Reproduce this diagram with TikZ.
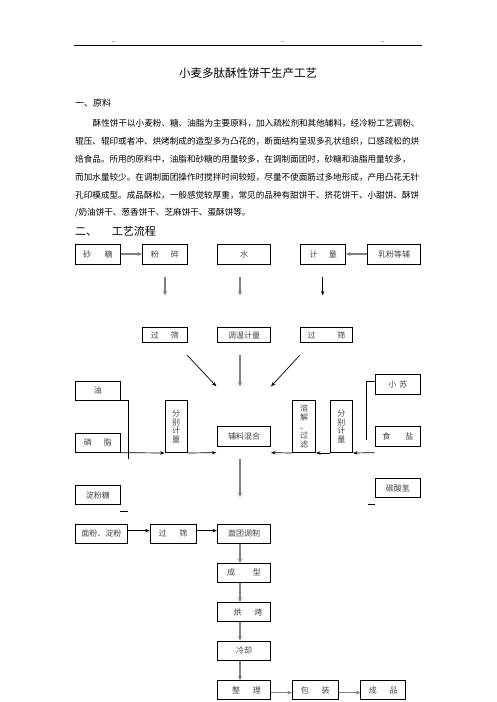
\documentclass[tikz,border=0pt]{standalone}
\usepackage{fontspec}
\setmainfont{Noto Sans CJK SC}
\usetikzlibrary{arrows.meta,calc}
\definecolor{boxtxt}{HTML}{444444}
\definecolor{garr}{HTML}{808080}
\begin{document}
\begin{tikzpicture}[x=1pt,y=-1pt,
  bx/.style={draw=black,line width=0.7pt,inner sep=0pt,text=boxtxt,font=\fontsize{8}{9}\selectfont},
  vbx/.style={bx,align=center,anchor=north,font=\fontsize{8}{8.8}\selectfont},
  txt/.style={inner sep=0pt,anchor=west,text=black},
  ga/.style={draw=garr,line width=1.5pt,-{Stealth[length=4.5pt,width=4pt]}},
  ba/.style={draw=black,line width=0.7pt,-{Stealth[length=4.5pt,width=3.5pt]}},
  bl/.style={draw=black,line width=0.7pt}]
\useasboundingbox (0,0) rectangle (496,702);
\fill[white] (0,0) rectangle (496,702);
% header
\coordinate (hl) at (74,45); \coordinate (hr) at (422,45);
\draw[line width=0.8pt] (hl) -- (hr);
\draw[gray!60,line width=0.6pt] (112,41.5) -- (114.5,41.5) (281,41.5) -- (284,41.5) (381,41.5) -- (383.5,41.5);
% texts
\node[inner sep=0pt] (title) at (248,73.3) {\fontsize{11.5}{12}\selectfont 小麦多肽酥性饼干生产工艺};
\node[txt] (h1) at (75,102.7) {\fontsize{9}{10}\selectfont 一、原料};
\begin{scope}[every node/.style={txt,font=\fontsize{8.6}{9}\selectfont}]
\node (p1) at (92.5,123.3) {酥性饼干以小麦粉、糖、油脂为主要原料，加入疏松剂和其他辅料，经冷粉工艺调粉、};
\node (p2) at (75,141) {辊压、辊印或者冲、烘烤制成的造型多为凸花的，断面结构呈现多孔状组织，口感疏松的烘};
\node (p3) at (75,159) {焙食品。所用的原料中，油脂和砂糖的用量较多，在调制面团时，砂糖和油脂用量较多，};
\node (p4) at (75,177.3) {而加水量较少。在调制面团操作时搅拌时间较短，尽量不使面筋过多地形成，产用凸花无针};
\node (p5) at (75,195) {孔印模成型。成品酥松，一般感觉较厚重，常见的品种有甜饼干、挤花饼干、小甜饼、酥饼};
\node (p6) at (75,212.7) {/奶油饼干、葱香饼干、芝麻饼干、蛋酥饼等。};
\end{scope}
\node[txt] (h2a) at (75,231.7) {\fontsize{11}{12}\selectfont 二、};
\node[txt] (h2b) at (111.7,231.7) {\fontsize{11}{12}\selectfont 工艺流程};
% row 1
\node[bx,minimum width=45.7pt,minimum height=20pt] (sha) at (97.85,254) {砂\hspace{1.7em}糖};
\node[bx,minimum width=45pt,minimum height=20pt] (fensui) at (164.8,254) {粉\hspace{1.5em}碎};
\node[bx,minimum width=53.4pt,minimum height=20pt] (shui) at (244,254) {水};
\node[bx,minimum width=45pt,minimum height=20pt] (jiliang) at (323.2,254) {计\hspace{1.4em}量};
\node[bx,minimum width=53.4pt,minimum height=20pt] (rufen) at (394,254) {乳粉等辅};
% row 2
\node[bx,minimum width=45pt,minimum height=15.4pt] (gs1) at (164.8,335) {过\hspace{1.5em}筛};
\node[bx,minimum width=53.4pt,minimum height=15.4pt] (tiaowen) at (244,335) {调温计量};
\node[bx,minimum width=51.6pt,minimum height=15.4pt] (gs2) at (326.5,335) {过\hspace{2.7em}筛};
% left column
\node[bx,minimum width=45.7pt,minimum height=19pt] (you) at (97.85,390.5) {油};
\node[bx,minimum width=45.7pt,minimum height=19pt] (linzhi) at (97.85,442.8) {磷\hspace{1.5em}脂};
\node[bx,minimum width=45.7pt,minimum height=18.6pt] (dft) at (97.85,495) {淀粉糖};
% vertical boxes
\node[vbx,minimum width=22.3pt,minimum height=52.3pt,inner ysep=6pt] (fb1) at (176.15,400) {分\\别\\计\\量};
\node[bx,minimum width=53.4pt,minimum height=20pt] (fuliao) at (244,436) {辅料混合};
\node[vbx,minimum width=23.4pt,minimum height=52.3pt,inner ysep=4pt] (rj) at (304,400) {溶\\解\\、\\过\\滤};
\node[vbx,minimum width=22.7pt,minimum height=52.3pt,inner ysep=6pt] (fb2) at (341.35,400) {分\\别\\计\\量};
% right column
\node[bx,minimum width=45.7pt,minimum height=20pt] (xiaosu) at (397.85,384) {小\hspace{0.4em}苏};
\node[bx,minimum width=45.7pt,minimum height=19.3pt] (shiyan) at (397.85,436.35) {食\hspace{1.9em}盐};
\node[bx,minimum width=45.7pt,minimum height=19.4pt] (tansuan) at (397.85,488) {碳酸氢};
% bottom flow
\node[bx,minimum width=52.7pt,minimum height=19.3pt] (mianfen) at (101.35,533.65) {面粉、淀粉};
\node[bx,minimum width=46pt,minimum height=19.3pt] (gs3) at (173,533.65) {过\hspace{1.6em}筛};
\node[bx,minimum width=53.4pt,minimum height=19.3pt] (miantuan) at (244,533.65) {面团调制};
\node[bx,minimum width=53.4pt,minimum height=19pt] (chengxing) at (244,572.8) {成\hspace{2.2em}型};
\node[bx,minimum width=53.4pt,minimum height=19.4pt] (hongkao) at (244,612) {\hspace{1em}烘\hspace{1.6em}烤};
\node[bx,minimum width=53.4pt,minimum height=19.7pt] (lengque) at (244,650.85) {冷却};
\node[bx,minimum width=53.4pt,minimum height=18.6pt] (zhengli) at (244,690) {\hspace{0.6em}整\hspace{1.6em}理};
\node[bx,minimum width=46pt,minimum height=18.6pt] (baozhuang) at (315.3,690) {包\hspace{1.6em}装};
\node[bx,minimum width=45pt,minimum height=18.6pt] (chengpin) at (383.2,690) {成\hspace{1.6em}品};
% connectors row 1
\draw[ga] (sha) -- (fensui);
\draw[ga] (rufen) -- (jiliang);
\draw[ga] ($(fensui.south)+(0.2,12.7)$) -- ($(fensui.south)+(0.2,31)$);
\draw[ga] ($(shui.south)+(-4,12.7)$) -- ($(shui.south)+(-4,31)$);
\draw[ba] ($(jiliang.south)+(-0.5,12.7)$) -- ($(jiliang.south)+(-0.5,31)$);
% converging to 辅料混合
\coordinate (d1s) at ($(gs1.south east)+(-0.3,12.3)$);
\draw[ba] (d1s) -- ($(fuliao.north west)+(-0.6,-39.3)$);
\draw[ga] ($(tiaowen.south)+(-4,12.3)$) -- ($(tiaowen.south)+(-4,43.3)$);
\draw[ba] ($(gs2.south west)+(-0.7,12.3)$) -- ($(fuliao.north east)+(0,-39.3)$);
% left feeders
\draw[bl] (you.south east) -- ++(7,0) -- ++(0,59);
\draw[ba] (linzhi.south east) -- (fb1.south west);
\draw[ba] (fb1.south east) -- ($(fuliao.south west)+(-0.6,6.3)$);
% right feeders
\draw[bl] ($(xiaosu.west)+(0,-3)$) -- ++(-8.3,0) -- ++(0,59);
\coordinate (rin) at ($(shiyan.south west)+(0,6.3)$);
\draw[ba] (rin) -- (fb2.south east);
\draw[ba] (fb2.south west) -- (rj.south east);
\draw[ba] (rj.south west) -- ($(fuliao.south east)+(0,6.3)$);
\draw[ga] ($(fuliao.south)+(-4,13)$) -- ($(fuliao.south)+(-4,50.7)$);
% stray marks
\draw[bl] (120,511.7) -- (128.3,511.7);
\draw[bl] (368,504.3) -- (375,504.3);
% bottom flow
\draw[ba] ($(mianfen.east)+(0,-3)$) -- ($(gs3.west)+(0,-3)$);
\draw[ba] ($(gs3.east)+(0,-3)$) -- ($(miantuan.west)+(0,-3)$);
\draw[ga] ($(miantuan.south)+(-4,0)$) -- ($(chengxing.north)+(-4,0)$);
\draw[ga] ($(chengxing.south)+(-4,0)$) -- ($(hongkao.north)+(-4,0)$);
\draw[ga] ($(hongkao.south)+(-4,0)$) -- ($(lengque.north)+(-4,0)$);
\draw[ga] ($(lengque.south)+(-4,0)$) -- ($(zhengli.north)+(-4,0)$);
\draw[ga] ($(zhengli.east)+(0,2.7)$) -- ($(baozhuang.west)+(0,2.7)$);
\draw[ga] ($(baozhuang.east)+(0,2.7)$) -- ($(chengpin.west)+(0,2.7)$);
\end{tikzpicture}
\end{document}
